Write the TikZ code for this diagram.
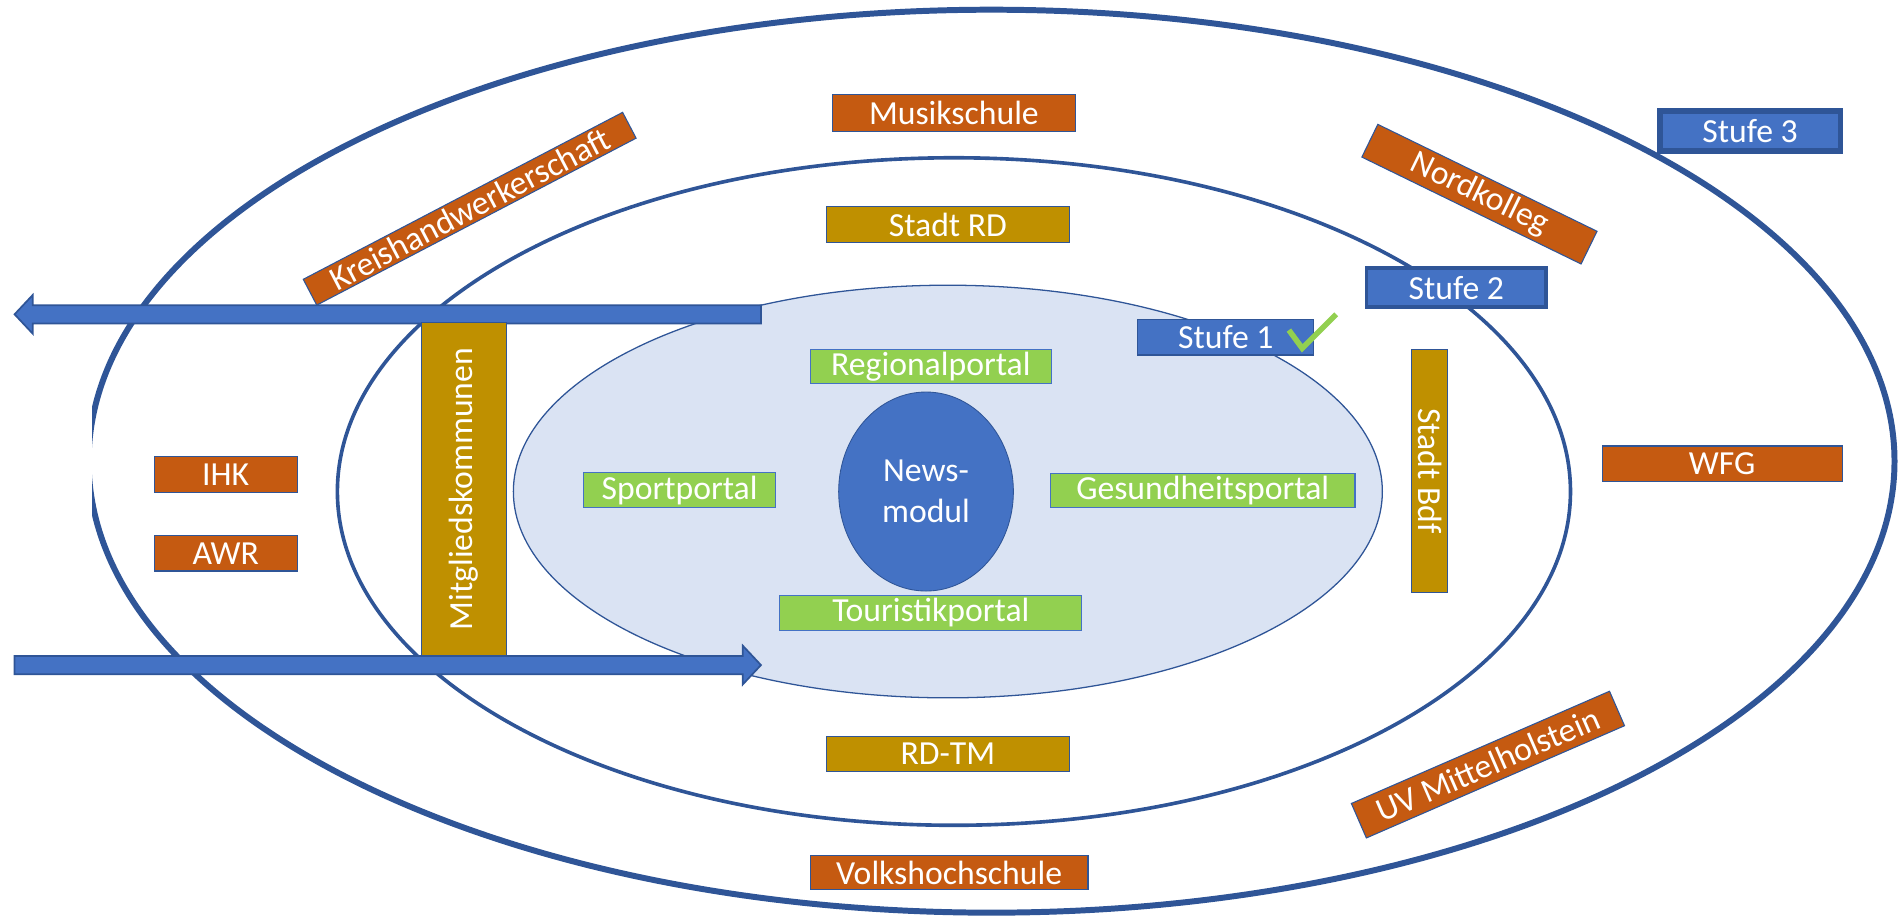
\documentclass[tikz,border=0pt]{standalone}
\usepackage{fontspec}
\setmainfont{Carlito}
\usetikzlibrary{shapes.geometric,calc}
\definecolor{lineblue}{HTML}{2F5597}
\definecolor{fillblue}{HTML}{4472C4}
\definecolor{paleblue}{HTML}{DAE3F3}
\definecolor{boxorange}{HTML}{C55A11}
\definecolor{boxgold}{HTML}{BF9000}
\definecolor{boxgreen}{HTML}{92D050}
\tikzset{
  box/.style={draw=lineblue, line width=0.5pt, text=white, inner sep=0pt,
    font=\fontsize{15.8}{19}\selectfont},
  orangebox/.style={box, fill=boxorange},
  goldbox/.style={box, fill=boxgold},
  greenbox/.style={box, fill=boxgreen, draw=fillblue},
  stufebox/.style={box, fill=fillblue},
  ring/.style={draw=lineblue},
  blockarrow/.style={fill=fillblue, draw=lineblue, line width=0.8pt},
}
\begin{document}
\begin{tikzpicture}[x=0.02cm,y=-0.02cm]
        \useasboundingbox (0,0) rectangle (1568,759);
        % rings
        \begin{scope}
          \clip (76,0) rectangle (1568,759);
          \draw[ring, line width=2.8pt] (817,380) ellipse [x radius=744, y radius=372];
        \end{scope}
        \draw[ring, line width=1.7pt] (786,405) ellipse [x radius=508, y radius=275];
        \draw[ring, fill=paleblue, line width=0.6pt] (781,405) ellipse [x radius=358, y radius=170];
        % arrows
        \coordinate (outS) at (627,259);
        \coordinate (outT) at (12,259);
        \coordinate (inS) at (12,548);
        \coordinate (inT) at (627,548);
        \draw[blockarrow] ($(outS)+(0,-7.5)$) -- ($(outT)+(15,-7.5)$) -- ($(outT)+(15,-16)$) -- (outT)
          -- ($(outT)+(15,16)$) -- ($(outT)+(15,7.5)$) -- ($(outS)+(0,7.5)$) -- cycle;
        \draw[blockarrow] ($(inS)+(0,-7.5)$) -- ($(inT)+(-15,-7.5)$) -- ($(inT)+(-15,-16)$) -- (inT)
          -- ($(inT)+(-15,16)$) -- ($(inT)+(-15,7.5)$) -- ($(inS)+(0,7.5)$) -- cycle;
        % center
        \node[ellipse, draw=lineblue, fill=fillblue, text=white, minimum width=2.88cm, minimum height=3.28cm,
          align=center, font=\fontsize{15.8}{19}\selectfont] (news) at (763,405) {News-\\modul};
        \node[greenbox, minimum width=3.98cm, minimum height=0.56cm] (regio) at (767,302) {Regionalportal};
        \node[greenbox, minimum width=3.16cm, minimum height=0.58cm] (sport) at (560,404) {Sportportal};
        \node[greenbox, minimum width=5.02cm, minimum height=0.56cm] (gesund) at (991,404) {Gesundheitsportal};
        \node[greenbox, minimum width=4.98cm, minimum height=0.58cm] (touri) at (767,505) {Touristikportal};
        % second ring
        \node[goldbox, minimum width=4cm, minimum height=0.58cm] (stadtrd) at (781,185) {Stadt RD};
        \node[goldbox, minimum width=4cm, minimum height=0.58cm] (rdtm) at (781,621) {RD-TM};
        \node[goldbox, minimum width=5.48cm, minimum height=1.4cm, rotate=90] (mitglied) at (382,403) {Mitgliedskommunen};
        \node[goldbox, minimum width=4cm, minimum height=0.6cm, rotate=-90] (bdf) at (1178,388) {Stadt Bdf};
        % outer ring
        \node[orangebox, minimum width=4cm, minimum height=0.6cm] (musik) at (786,93) {Musikschule};
        \node[orangebox, minimum width=4.58cm, minimum height=0.56cm] (vhs) at (782,719) {Volkshochschule};
        \node[orangebox, minimum width=2.36cm, minimum height=0.58cm] (ihk) at (186,391) {IHK};
        \node[orangebox, minimum width=2.36cm, minimum height=0.58cm] (awr) at (186,456) {AWR};
        \node[orangebox, minimum width=3.96cm, minimum height=0.58cm] (wfg) at (1419,382) {WFG};
        \node[orangebox, minimum width=5.94cm, minimum height=0.48cm, rotate=27.6] (kreis) at (387,172) {Kreishandwerkerschaft};
        \node[orangebox, minimum width=4.02cm, minimum height=0.6cm, rotate=-26] (nord) at (1219,160) {Nordkolleg};
        \node[orangebox, minimum width=4.64cm, minimum height=0.62cm, rotate=23.5] (uv) at (1226,630) {UV Mittelholstein};
        % stages
        \node[stufebox, minimum width=2.9cm, minimum height=0.58cm] (stufe1) at (1010,278) {Stufe 1};
        \node[stufebox, line width=1.7pt, minimum width=2.96cm, minimum height=0.64cm] (stufe2) at (1200,237) {Stufe 2};
        \node[stufebox, line width=2.8pt, minimum width=2.98cm, minimum height=0.66cm] (stufe3) at (1442,108) {Stufe 3};
        \draw[boxgreen, line width=2.6pt] (1062,272) -- (1073,287) -- (1101,259);
\end{tikzpicture}
\end{document}
